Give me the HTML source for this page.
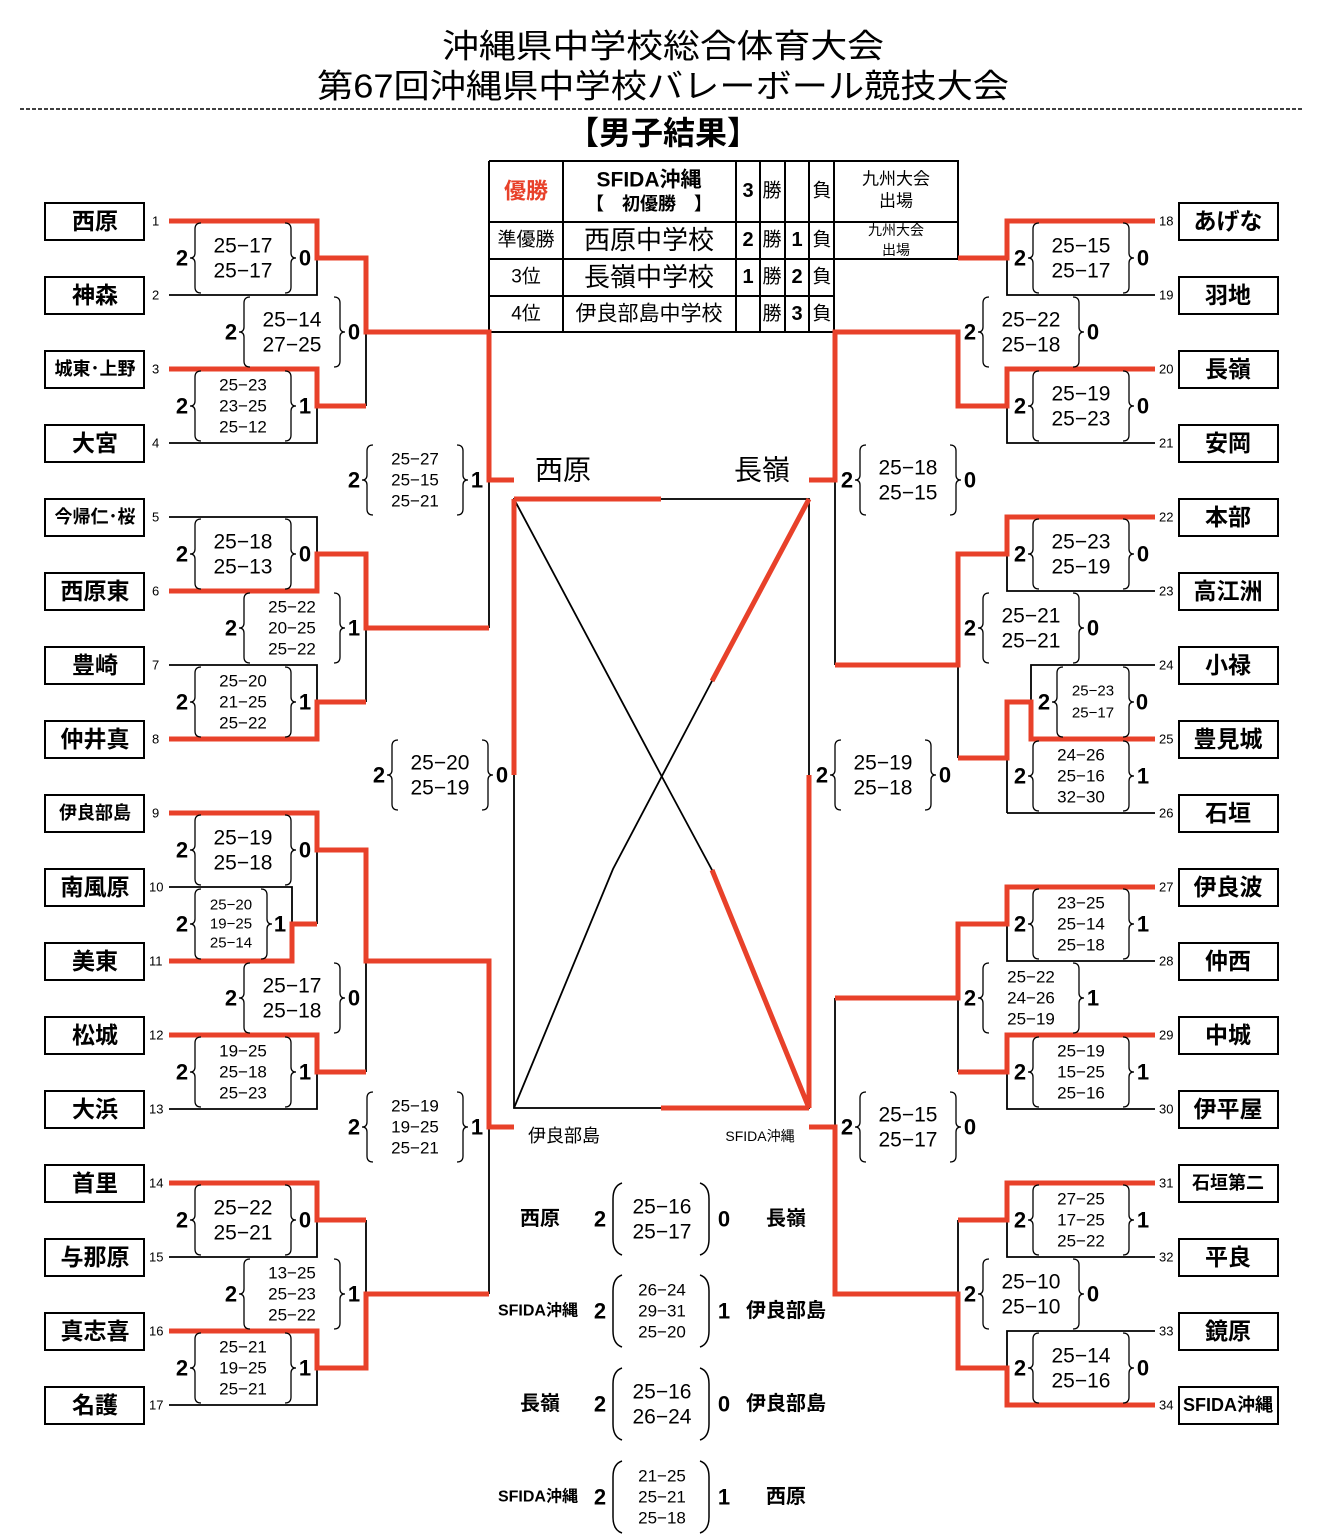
<!DOCTYPE html>
<html><head><meta charset="utf-8"><style>
html,body{margin:0;padding:0;background:#fff}
svg{display:block}
text{font-family:"Liberation Sans","Noto Sans CJK JP",sans-serif;fill:#000}
.nm{font-weight:bold;font-size:23px;text-anchor:middle}
.nms{font-weight:bold;font-size:18px;text-anchor:middle}
.no{font-size:13px}
.s2{font-size:21px;text-anchor:middle}
.s3{font-size:17px;text-anchor:middle}
.ss{font-size:15px;text-anchor:middle}
.w{font-size:22px;font-weight:bold;text-anchor:middle}
.c{text-anchor:middle}
</style></head><body>
<svg width="1317" height="1537" viewBox="0 0 1317 1537" xmlns="http://www.w3.org/2000/svg">
<defs>
<path id="lb" d="M8,-35 Q2,-35 2,-29 L2,-5 Q2,0 -3,0 Q2,0 2,5 L2,29 Q2,35 8,35" fill="none" stroke="#000" stroke-width="1.3"/>
<path id="rb" d="M-8,-35 Q-2,-35 -2,-29 L-2,-5 Q-2,0 3,0 Q-2,0 -2,5 L-2,29 Q-2,35 -8,35" fill="none" stroke="#000" stroke-width="1.3"/>
<path id="lp" d="M9,-36 Q0,-33 0,-20 L0,20 Q0,33 9,36" fill="none" stroke="#000" stroke-width="1.5"/>
<path id="rp" d="M-9,-36 Q0,-33 0,-20 L0,20 Q0,33 -9,36" fill="none" stroke="#000" stroke-width="1.5"/>
</defs>
<g dominant-baseline="central">
<!-- title -->
<text x="663" y="46" class="c" font-size="33" textLength="442" lengthAdjust="spacingAndGlyphs">沖縄県中学校総合体育大会</text>
<text x="663" y="86" class="c" font-size="33" textLength="692" lengthAdjust="spacingAndGlyphs">第67回沖縄県中学校バレーボール競技大会</text>
<line x1="20" y1="109" x2="1303" y2="109" stroke="#000" stroke-width="1.5" stroke-dasharray="4,2"/>
<text x="663" y="133" class="c" font-size="32" font-weight="bold">【男子結果】</text>

<!-- table -->
<g stroke="#000" stroke-width="2" fill="none">
<path d="M489 161H958V259M489 161V332H834M563 161V332M736 161V332M760 161V332M785 161V332M809 161V332M834 161V332M489 222H958M489 259H958M489 296H834"/>
</g>
<text x="526" y="191" class="c" font-size="22" font-weight="bold" style="fill:#e8412a">優勝</text>
<text x="649" y="180" class="c" font-size="21" font-weight="bold">SFIDA沖縄</text>
<text x="649" y="204" class="c" font-size="18" font-weight="bold">【　初優勝　】</text>
<text x="748" y="191" class="c" font-size="20" font-weight="bold">3</text>
<text x="772" y="191" class="c" font-size="19">勝</text>
<text x="822" y="191" class="c" font-size="19">負</text>
<text x="896" y="179" class="c" font-size="17">九州大会</text>
<text x="896" y="201" class="c" font-size="17">出場</text>
<text x="526" y="240" class="c" font-size="19">準優勝</text>
<text x="649" y="240" class="c" font-size="26">西原中学校</text>
<text x="748" y="240" class="c" font-size="20" font-weight="bold">2</text>
<text x="772" y="240" class="c" font-size="19">勝</text>
<text x="797" y="240" class="c" font-size="20" font-weight="bold">1</text>
<text x="822" y="240" class="c" font-size="19">負</text>
<text x="896" y="230" class="c" font-size="14">九州大会</text>
<text x="896" y="250" class="c" font-size="14">出場</text>
<text x="526" y="277" class="c" font-size="19">3位</text>
<text x="649" y="277" class="c" font-size="26">長嶺中学校</text>
<text x="748" y="277" class="c" font-size="20" font-weight="bold">1</text>
<text x="772" y="277" class="c" font-size="19">勝</text>
<text x="797" y="277" class="c" font-size="20" font-weight="bold">2</text>
<text x="822" y="277" class="c" font-size="19">負</text>
<text x="526" y="314" class="c" font-size="19">4位</text>
<text x="649" y="314" class="c" font-size="21">伊良部島中学校</text>
<text x="772" y="314" class="c" font-size="19">勝</text>
<text x="797" y="314" class="c" font-size="20" font-weight="bold">3</text>
<text x="822" y="314" class="c" font-size="19">負</text>

<!-- black lines -->
<g stroke="#000" stroke-width="1.8" fill="none">
<path d="M169 295H317V258M169 443H317V406M169 517H317V554M169 665H317V702M366 332V406M366 628V702M489 480V628M169 887H292V924M317 850V924M169 1109H317V1072M366 961V1072M489 1127V1294M169 1257H317V1220M169 1405H317V1368M366 1220V1294"/>
<path d="M1155 295H1007V258M1155 443H1007V406M835 480V665M1155 591H1007V554M958 665V758M1155 665H1031V702M1007 758V813M1155 813H1007M1155 961H1007V924M958 998V1072M835 998V1127M1155 1109H1007V1072M1155 1257H1007V1220M958 1220V1294M1155 1331H1007V1368"/>
<rect x="514" y="499" width="295" height="609"/>
<polyline points="809,499 712,681 613,869 514,1108"/>
<polyline points="514,499 661,775 712,870 809,1108"/>
</g>
<!-- red lines -->
<g stroke="#e8412a" stroke-width="5" fill="none" stroke-linejoin="miter">
<path d="M169 221H317V258H366V332H489V480H514M169 369H317V406H366M169 591H317V554H366V628H489M169 739H317V702H366M169 813H317V850H366V961H489V1127H514M169 961H292V924H317M169 1035H317V1072H366M169 1183H317V1220H366M169 1331H317V1368H366V1294H489"/>
<path d="M1155 221H1007V258H958M1155 369H1007V406H958V332H835V480H809M1155 517H1007V554H958V665H835M1155 739H1031V702H1007V758H958M1155 887H1007V924H958V998H835M1155 1035H1007V1072H958M1155 1183H1007V1220H958M1155 1405H1007V1368H958V1294H835V1127H809"/>
<path d="M514 499H661M514 499V775M809 775V1108M661 1108H809"/>
<path d="M809 499L712 681M712 870L809 1108"/>
</g>

<text x="563" y="470" class="c" font-size="28">西原</text>
<text x="762" y="470" class="c" font-size="28">長嶺</text>
<text x="564" y="1136" class="c" font-size="18">伊良部島</text>
<text x="760" y="1136" class="c" font-size="14">SFIDA沖縄</text>

<!-- left teams -->
<g fill="none" stroke="#000" stroke-width="2">
<rect x="45" y="203" width="99" height="37"/><rect x="45" y="277" width="99" height="37"/><rect x="45" y="351" width="99" height="37"/><rect x="45" y="425" width="99" height="37"/><rect x="45" y="499" width="99" height="37"/><rect x="45" y="573" width="99" height="37"/><rect x="45" y="647" width="99" height="37"/><rect x="45" y="721" width="99" height="37"/><rect x="45" y="795" width="99" height="37"/><rect x="45" y="869" width="99" height="37"/><rect x="45" y="943" width="99" height="37"/><rect x="45" y="1017" width="99" height="37"/><rect x="45" y="1091" width="99" height="37"/><rect x="45" y="1165" width="99" height="37"/><rect x="45" y="1239" width="99" height="37"/><rect x="45" y="1313" width="99" height="37"/><rect x="45" y="1387" width="99" height="37"/>
<rect x="1179" y="203" width="99" height="37"/><rect x="1179" y="277" width="99" height="37"/><rect x="1179" y="351" width="99" height="37"/><rect x="1179" y="425" width="99" height="37"/><rect x="1179" y="499" width="99" height="37"/><rect x="1179" y="573" width="99" height="37"/><rect x="1179" y="647" width="99" height="37"/><rect x="1179" y="721" width="99" height="37"/><rect x="1179" y="795" width="99" height="37"/><rect x="1179" y="869" width="99" height="37"/><rect x="1179" y="943" width="99" height="37"/><rect x="1179" y="1017" width="99" height="37"/><rect x="1179" y="1091" width="99" height="37"/><rect x="1179" y="1165" width="99" height="37"/><rect x="1179" y="1239" width="99" height="37"/><rect x="1179" y="1313" width="99" height="37"/><rect x="1179" y="1387" width="99" height="37"/>
</g>
<text x="95" y="221" class="nm">西原</text>
<text x="95" y="295" class="nm">神森</text>
<text x="95" y="369" class="nms" font-size="17">城東･上野</text>
<text x="95" y="443" class="nm">大宮</text>
<text x="95" y="517" class="nms" font-size="17">今帰仁･桜</text>
<text x="95" y="591" class="nm">西原東</text>
<text x="95" y="665" class="nm">豊崎</text>
<text x="95" y="739" class="nm">仲井真</text>
<text x="95" y="813" class="nms" font-size="20">伊良部島</text>
<text x="95" y="887" class="nm">南風原</text>
<text x="95" y="961" class="nm">美東</text>
<text x="95" y="1035" class="nm">松城</text>
<text x="95" y="1109" class="nm">大浜</text>
<text x="95" y="1183" class="nm">首里</text>
<text x="95" y="1257" class="nm">与那原</text>
<text x="95" y="1331" class="nm">真志喜</text>
<text x="95" y="1405" class="nm">名護</text>
<text x="1228" y="221" class="nm">あげな</text>
<text x="1228" y="295" class="nm">羽地</text>
<text x="1228" y="369" class="nm">長嶺</text>
<text x="1228" y="443" class="nm">安岡</text>
<text x="1228" y="517" class="nm">本部</text>
<text x="1228" y="591" class="nm">高江洲</text>
<text x="1228" y="665" class="nm">小禄</text>
<text x="1228" y="739" class="nm">豊見城</text>
<text x="1228" y="813" class="nm">石垣</text>
<text x="1228" y="887" class="nm">伊良波</text>
<text x="1228" y="961" class="nm">仲西</text>
<text x="1228" y="1035" class="nm">中城</text>
<text x="1228" y="1109" class="nm">伊平屋</text>
<text x="1228" y="1183" class="nms" font-size="20">石垣第二</text>
<text x="1228" y="1257" class="nm">平良</text>
<text x="1228" y="1331" class="nm">鏡原</text>
<text x="1228" y="1405" class="nms" font-size="17">SFIDA沖縄</text>

<!-- numbers -->
<g class="no">
<text x="152" y="221" class="no">1</text><text x="152" y="295" class="no">2</text><text x="152" y="369" class="no">3</text><text x="152" y="443" class="no">4</text><text x="152" y="517" class="no">5</text><text x="152" y="591" class="no">6</text><text x="152" y="665" class="no">7</text><text x="152" y="739" class="no">8</text><text x="152" y="813" class="no">9</text><text x="149" y="887" class="no">10</text><text x="149" y="961" class="no">11</text><text x="149" y="1035" class="no">12</text><text x="149" y="1109" class="no">13</text><text x="149" y="1183" class="no">14</text><text x="149" y="1257" class="no">15</text><text x="149" y="1331" class="no">16</text><text x="149" y="1405" class="no">17</text>
<text x="1159" y="221" class="no">18</text><text x="1159" y="295" class="no">19</text><text x="1159" y="369" class="no">20</text><text x="1159" y="443" class="no">21</text><text x="1159" y="517" class="no">22</text><text x="1159" y="591" class="no">23</text><text x="1159" y="665" class="no">24</text><text x="1159" y="739" class="no">25</text><text x="1159" y="813" class="no">26</text><text x="1159" y="887" class="no">27</text><text x="1159" y="961" class="no">28</text><text x="1159" y="1035" class="no">29</text><text x="1159" y="1109" class="no">30</text><text x="1159" y="1183" class="no">31</text><text x="1159" y="1257" class="no">32</text><text x="1159" y="1331" class="no">33</text><text x="1159" y="1405" class="no">34</text>
</g>

<!-- score groups (2-line) -->
<!-- L R1 258 -->
<g transform="translate(182,258)"><text class="w">2</text><use href="#lb" x="11"/><text x="61" y="-12" class="s2">25−17</text><text x="61" y="13" class="s2">25−17</text><use href="#rb" x="111"/><text x="123" class="w">0</text></g>
<g transform="translate(182,406)"><text class="w">2</text><use href="#lb" x="11"/><text x="61" y="-21" class="s3">25−23</text><text x="61" class="s3">23−25</text><text x="61" y="21" class="s3">25−12</text><use href="#rb" x="111"/><text x="123" class="w">1</text></g>
<g transform="translate(182,554)"><text class="w">2</text><use href="#lb" x="11"/><text x="61" y="-12" class="s2">25−18</text><text x="61" y="13" class="s2">25−13</text><use href="#rb" x="111"/><text x="123" class="w">0</text></g>
<g transform="translate(182,702)"><text class="w">2</text><use href="#lb" x="11"/><text x="61" y="-21" class="s3">25−20</text><text x="61" class="s3">21−25</text><text x="61" y="21" class="s3">25−22</text><use href="#rb" x="111"/><text x="123" class="w">1</text></g>
<g transform="translate(182,850)"><text class="w">2</text><use href="#lb" x="11"/><text x="61" y="-12" class="s2">25−19</text><text x="61" y="13" class="s2">25−18</text><use href="#rb" x="111"/><text x="123" class="w">0</text></g>
<g transform="translate(182,924)"><text class="w">2</text><use href="#lb" x="11"/><text x="49" y="-19" class="ss">25−20</text><text x="49" class="ss">19−25</text><text x="49" y="19" class="ss">25−14</text><use href="#rb" x="87"/><text x="98" class="w">1</text></g>
<g transform="translate(182,1072)"><text class="w">2</text><use href="#lb" x="11"/><text x="61" y="-21" class="s3">19−25</text><text x="61" class="s3">25−18</text><text x="61" y="21" class="s3">25−23</text><use href="#rb" x="111"/><text x="123" class="w">1</text></g>
<g transform="translate(182,1220)"><text class="w">2</text><use href="#lb" x="11"/><text x="61" y="-12" class="s2">25−22</text><text x="61" y="13" class="s2">25−21</text><use href="#rb" x="111"/><text x="123" class="w">0</text></g>
<g transform="translate(182,1368)"><text class="w">2</text><use href="#lb" x="11"/><text x="61" y="-21" class="s3">25−21</text><text x="61" class="s3">19−25</text><text x="61" y="21" class="s3">25−21</text><use href="#rb" x="111"/><text x="123" class="w">1</text></g>
<!-- L R2 -->
<g transform="translate(231,332)"><text class="w">2</text><use href="#lb" x="11"/><text x="61" y="-12" class="s2">25−14</text><text x="61" y="13" class="s2">27−25</text><use href="#rb" x="111"/><text x="123" class="w">0</text></g>
<g transform="translate(231,628)"><text class="w">2</text><use href="#lb" x="11"/><text x="61" y="-21" class="s3">25−22</text><text x="61" class="s3">20−25</text><text x="61" y="21" class="s3">25−22</text><use href="#rb" x="111"/><text x="123" class="w">1</text></g>
<g transform="translate(231,998)"><text class="w">2</text><use href="#lb" x="11"/><text x="61" y="-12" class="s2">25−17</text><text x="61" y="13" class="s2">25−18</text><use href="#rb" x="111"/><text x="123" class="w">0</text></g>
<g transform="translate(231,1294)"><text class="w">2</text><use href="#lb" x="11"/><text x="61" y="-21" class="s3">13−25</text><text x="61" class="s3">25−23</text><text x="61" y="21" class="s3">25−22</text><use href="#rb" x="111"/><text x="123" class="w">1</text></g>
<!-- L R3 / SF -->
<g transform="translate(354,480)"><text class="w">2</text><use href="#lb" x="11"/><text x="61" y="-21" class="s3">25−27</text><text x="61" class="s3">25−15</text><text x="61" y="21" class="s3">25−21</text><use href="#rb" x="111"/><text x="123" class="w">1</text></g>
<g transform="translate(354,1127)"><text class="w">2</text><use href="#lb" x="11"/><text x="61" y="-21" class="s3">25−19</text><text x="61" class="s3">19−25</text><text x="61" y="21" class="s3">25−21</text><use href="#rb" x="111"/><text x="123" class="w">1</text></g>
<g transform="translate(379,775)"><text class="w">2</text><use href="#lb" x="11"/><text x="61" y="-12" class="s2">25−20</text><text x="61" y="13" class="s2">25−19</text><use href="#rb" x="111"/><text x="123" class="w">0</text></g>
<!-- R R1 -->
<g transform="translate(1020,258)"><text class="w">2</text><use href="#lb" x="11"/><text x="61" y="-12" class="s2">25−15</text><text x="61" y="13" class="s2">25−17</text><use href="#rb" x="111"/><text x="123" class="w">0</text></g>
<g transform="translate(1020,406)"><text class="w">2</text><use href="#lb" x="11"/><text x="61" y="-12" class="s2">25−19</text><text x="61" y="13" class="s2">25−23</text><use href="#rb" x="111"/><text x="123" class="w">0</text></g>
<g transform="translate(1020,554)"><text class="w">2</text><use href="#lb" x="11"/><text x="61" y="-12" class="s2">25−23</text><text x="61" y="13" class="s2">25−19</text><use href="#rb" x="111"/><text x="123" class="w">0</text></g>
<g transform="translate(1044,702)"><text class="w">2</text><use href="#lb" x="11"/><text x="49" y="-11" class="ss">25−23</text><text x="49" y="11" class="ss">25−17</text><use href="#rb" x="87"/><text x="98" class="w">0</text></g>
<g transform="translate(1020,776)"><text class="w">2</text><use href="#lb" x="11"/><text x="61" y="-21" class="s3">24−26</text><text x="61" class="s3">25−16</text><text x="61" y="21" class="s3">32−30</text><use href="#rb" x="111"/><text x="123" class="w">1</text></g>
<g transform="translate(1020,924)"><text class="w">2</text><use href="#lb" x="11"/><text x="61" y="-21" class="s3">23−25</text><text x="61" class="s3">25−14</text><text x="61" y="21" class="s3">25−18</text><use href="#rb" x="111"/><text x="123" class="w">1</text></g>
<g transform="translate(1020,1072)"><text class="w">2</text><use href="#lb" x="11"/><text x="61" y="-21" class="s3">25−19</text><text x="61" class="s3">15−25</text><text x="61" y="21" class="s3">25−16</text><use href="#rb" x="111"/><text x="123" class="w">1</text></g>
<g transform="translate(1020,1220)"><text class="w">2</text><use href="#lb" x="11"/><text x="61" y="-21" class="s3">27−25</text><text x="61" class="s3">17−25</text><text x="61" y="21" class="s3">25−22</text><use href="#rb" x="111"/><text x="123" class="w">1</text></g>
<g transform="translate(1020,1368)"><text class="w">2</text><use href="#lb" x="11"/><text x="61" y="-12" class="s2">25−14</text><text x="61" y="13" class="s2">25−16</text><use href="#rb" x="111"/><text x="123" class="w">0</text></g>
<!-- R R2 -->
<g transform="translate(970,332)"><text class="w">2</text><use href="#lb" x="11"/><text x="61" y="-12" class="s2">25−22</text><text x="61" y="13" class="s2">25−18</text><use href="#rb" x="111"/><text x="123" class="w">0</text></g>
<g transform="translate(970,628)"><text class="w">2</text><use href="#lb" x="11"/><text x="61" y="-12" class="s2">25−21</text><text x="61" y="13" class="s2">25−21</text><use href="#rb" x="111"/><text x="123" class="w">0</text></g>
<g transform="translate(970,998)"><text class="w">2</text><use href="#lb" x="11"/><text x="61" y="-21" class="s3">25−22</text><text x="61" class="s3">24−26</text><text x="61" y="21" class="s3">25−19</text><use href="#rb" x="111"/><text x="123" class="w">1</text></g>
<g transform="translate(970,1294)"><text class="w">2</text><use href="#lb" x="11"/><text x="61" y="-12" class="s2">25−10</text><text x="61" y="13" class="s2">25−10</text><use href="#rb" x="111"/><text x="123" class="w">0</text></g>
<!-- R R3 / SF -->
<g transform="translate(847,480)"><text class="w">2</text><use href="#lb" x="11"/><text x="61" y="-12" class="s2">25−18</text><text x="61" y="13" class="s2">25−15</text><use href="#rb" x="111"/><text x="123" class="w">0</text></g>
<g transform="translate(847,1127)"><text class="w">2</text><use href="#lb" x="11"/><text x="61" y="-12" class="s2">25−15</text><text x="61" y="13" class="s2">25−17</text><use href="#rb" x="111"/><text x="123" class="w">0</text></g>
<g transform="translate(822,775)"><text class="w">2</text><use href="#lb" x="11"/><text x="61" y="-12" class="s2">25−19</text><text x="61" y="13" class="s2">25−18</text><use href="#rb" x="111"/><text x="123" class="w">0</text></g>

<!-- bottom results -->
<text x="540" y="1219" class="c" font-size="20" font-weight="bold">西原</text>
<g transform="translate(600,1219)"><text class="w">2</text><use href="#lp" x="13"/><text x="62" y="-12" class="s2">25−16</text><text x="62" y="13" class="s2">25−17</text><use href="#rp" x="109"/><text x="124" class="w">0</text></g>
<text x="786" y="1219" class="c" font-size="20" font-weight="bold">長嶺</text>
<text x="538" y="1311" class="c" font-size="16" font-weight="bold">SFIDA沖縄</text>
<g transform="translate(600,1311)"><text class="w">2</text><use href="#lp" x="13"/><text x="62" y="-21" class="s3">26−24</text><text x="62" class="s3">29−31</text><text x="62" y="21" class="s3">25−20</text><use href="#rp" x="109"/><text x="124" class="w">1</text></g>
<text x="786" y="1311" class="c" font-size="20" font-weight="bold">伊良部島</text>
<text x="540" y="1404" class="c" font-size="20" font-weight="bold">長嶺</text>
<g transform="translate(600,1404)"><text class="w">2</text><use href="#lp" x="13"/><text x="62" y="-12" class="s2">25−16</text><text x="62" y="13" class="s2">26−24</text><use href="#rp" x="109"/><text x="124" class="w">0</text></g>
<text x="786" y="1404" class="c" font-size="20" font-weight="bold">伊良部島</text>
<text x="538" y="1497" class="c" font-size="16" font-weight="bold">SFIDA沖縄</text>
<g transform="translate(600,1497)"><text class="w">2</text><use href="#lp" x="13"/><text x="62" y="-21" class="s3">21−25</text><text x="62" class="s3">25−21</text><text x="62" y="21" class="s3">25−18</text><use href="#rp" x="109"/><text x="124" class="w">1</text></g>
<text x="786" y="1497" class="c" font-size="20" font-weight="bold">西原</text>
</g>
</svg>
</body></html>
